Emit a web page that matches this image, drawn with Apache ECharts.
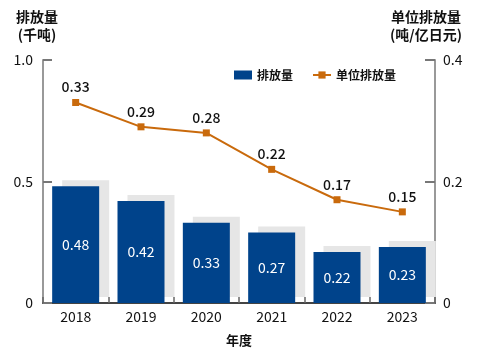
<!DOCTYPE html>
<html><head><meta charset="utf-8">
<script src="https://cdn.jsdelivr.net/npm/echarts@6/dist/echarts.min.js"></script>
<style>html,body{margin:0;padding:0;background:#fff}#c{width:483px;height:355px}</style>
</head><body><div id="c"></div>
<script>
const years = ['2018','2019','2020','2021','2022','2023'];
const emissions = [0.48, 0.42, 0.33, 0.29, 0.21, 0.23];
const emissionLabels = ['0.48','0.42','0.33','0.27','0.22','0.23'];
const intensity = [0.33, 0.29, 0.28, 0.22, 0.17, 0.15];
const leftTicks = {0:'0', 0.5:'0.5', 1:'1.0'};
const rightTicks = {0:'0', 0.2:'0.2', 0.4:'0.4'};

const FONT = '"Noto Sans CJK JP", "Noto Sans CJK SC", sans-serif';
const chart = echarts.init(document.getElementById('c'));
chart.setOption({
  animation: false,
  textStyle: {fontFamily: FONT},
  grid: {left: 43, right: 46, top: 60, bottom: 52},
  legend: {
    left: 229, top: 64, itemWidth: 18, itemHeight: 9, itemGap: 19,
    textStyle: {fontFamily: FONT, fontSize: 12, fontWeight: 'bold', color: '#111'},
    data: [{name: '排放量', icon: 'rect'}, {name: '单位排放量'}]
  },
  xAxis: {
    type: 'category', data: years,
    name: '年度', nameLocation: 'middle', nameGap: 31,
    nameTextStyle: {fontFamily: FONT, fontSize: 13, fontWeight: 'bold', color: '#111'},
    axisLine: {lineStyle: {color: '#444', width: 2}},
    axisTick: {show: true, inside: true, length: 6, lineStyle: {color: '#666', width: 1.5}},
    axisLabel: {fontFamily: FONT, fontSize: 14, color: '#111', margin: 7}
  },
  yAxis: [{
    type: 'value', min: 0, max: 1, interval: 0.5,
    name: '排放量\n(千吨)', nameLocation: 'end', nameGap: 16,
    nameTextStyle: {fontFamily: FONT, fontSize: 14, fontWeight: 'bold', color: '#111', align: 'center', verticalAlign: 'bottom', lineHeight: 18, padding: [0, 12, 0, 0]},
    axisLine: {show: true, lineStyle: {color: '#999', width: 2}},
    axisTick: {show: true, inside: true, length: 9, lineStyle: {color: '#777', width: 2}},
    splitLine: {show: false},
    axisLabel: {fontFamily: FONT, fontSize: 14, color: '#111', margin: 10, formatter: v => leftTicks[v] ?? ''}
  }, {
    type: 'value', min: 0, max: 0.4, interval: 0.2, position: 'right',
    name: '单位排放量\n(吨/亿日元)', nameLocation: 'end', nameGap: 16,
    nameTextStyle: {fontFamily: FONT, fontSize: 14, fontWeight: 'bold', color: '#111', align: 'center', verticalAlign: 'bottom', lineHeight: 18, padding: [0, 18, 0, 0]},
    axisLine: {show: true, lineStyle: {color: '#999', width: 2}},
    axisTick: {show: true, inside: true, length: 10, lineStyle: {color: '#777', width: 2}},
    splitLine: {show: false},
    axisLabel: {fontFamily: FONT, fontSize: 14, color: '#111', margin: 8, formatter: v => rightTicks[v] ?? ''}
  }],
  series: [{
    name: '排放量', type: 'bar', yAxisIndex: 0, barWidth: 47,
    data: emissions,
    itemStyle: {color: '#00438b', shadowColor: '#e6e6e6', shadowBlur: 0, shadowOffsetX: 10, shadowOffsetY: -6},
    label: {show: true, position: 'inside', color: '#fff', fontFamily: FONT, fontSize: 14,
      formatter: p => emissionLabels[p.dataIndex]}
  }, {
    name: '单位排放量', type: 'line', yAxisIndex: 1,
    data: intensity,
    symbol: 'rect', symbolSize: 7,
    lineStyle: {color: '#c96a0c', width: 2},
    itemStyle: {color: '#c96a0c'},
    label: {show: true, position: 'top', distance: 5, color: '#111', fontFamily: FONT, fontSize: 14, fontWeight: 500,
      formatter: p => p.value.toFixed(2)}
  }]
});
</script></body></html>
